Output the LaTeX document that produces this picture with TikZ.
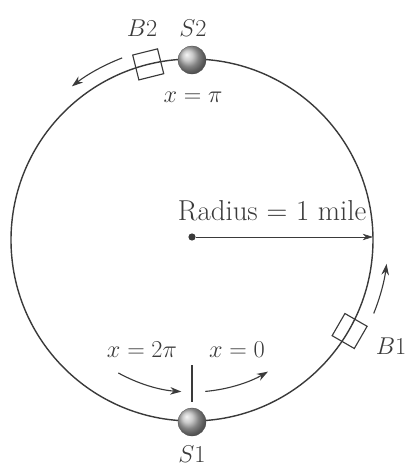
\documentclass[tikz,border=0pt]{standalone}
\usepackage{tikz}
\usetikzlibrary{arrows.meta,shapes}
\usepackage{amsmath,amssymb}
\definecolor{tinta}{HTML}{3A3A3A}

\begin{document}
\begin{tikzpicture}[x=0.025cm,y=0.025cm,
    rotulo/.style={text=tinta,font=\fontsize{17.5}{21}\selectfont,inner sep=1pt},
    bola/.style={circle,minimum size=0.7cm,inner sep=0pt,ball color=gray!55,draw=gray!60!black,very thin},
    bloco/.style={draw=tinta,thick,minimum size=0.64cm,inner sep=0pt},
    seta/.style={tinta,thick,-{Stealth[length=2.8mm,width=1.9mm]}}]
    \useasboundingbox (-192,-228) rectangle (217,240);

    % Pista circular
    \draw[tinta,line width=1pt] (0,0) circle[radius=181];

    % Raio
    \node[circle,fill=tinta,inner sep=0pt,minimum size=0.18cm] (centro) at (0,3) {};
    \coordinate (borda) at (181,3);
    \draw[tinta,thin,-{Stealth[length=2.6mm,width=1.6mm]}] (centro) -- (borda);
    \node[rotulo,font=\fontsize{20.5}{24}\selectfont,anchor=east] (raio) at (176,29) {Radius = 1 mile};

    % Blocos B1 e B2
    \node[bloco,rotate=14] (b2) at (104:181) {};
    \node[bloco,rotate=-30] (b1) at (-30:182) {};

    % Estacoes S1 e S2
    \node[bola] (s2) at (90:180) {};
    \node[bola] (s1) at (270:182) {};

    % Sentido do movimento
    \coordinate (p2) at (111:195);
    \draw[seta] (p2) arc[start angle=111,end angle=128,radius=195];
    \coordinate (p1) at (-22:196);
    \draw[seta] (p1) arc[start angle=-22,end angle=-7,radius=196];
    \coordinate (q1) at (241:152);
    \draw[seta] (q1) arc[start angle=241,end angle=266,radius=152];
    \coordinate (q2) at (275:152);
    \draw[seta] (q2) arc[start angle=275,end angle=300,radius=152];

    % Marca em x = 0
    \coordinate (m1) at (0,-125);
    \coordinate (m2) at (0,-162);
    \draw[tinta,thick] (m1) -- (m2);

    % Rotulos
    \node[rotulo] (lb2) at (-50,212) {$B2$};
    \node[rotulo] (ls2) at (1,212) {$S2$};
    \node[rotulo] (lpi) at (1,143) {$x = \pi$};
    \node[rotulo] (lb1) at (199,-106) {$B1$};
    \node[rotulo] (ls1) at (0,-214) {$S1$};
    \node[rotulo] (l2pi) at (-50,-110) {$x = 2\pi$};
    \node[rotulo] (lzero) at (45,-110) {$x = 0$};
\end{tikzpicture}
\end{document}
